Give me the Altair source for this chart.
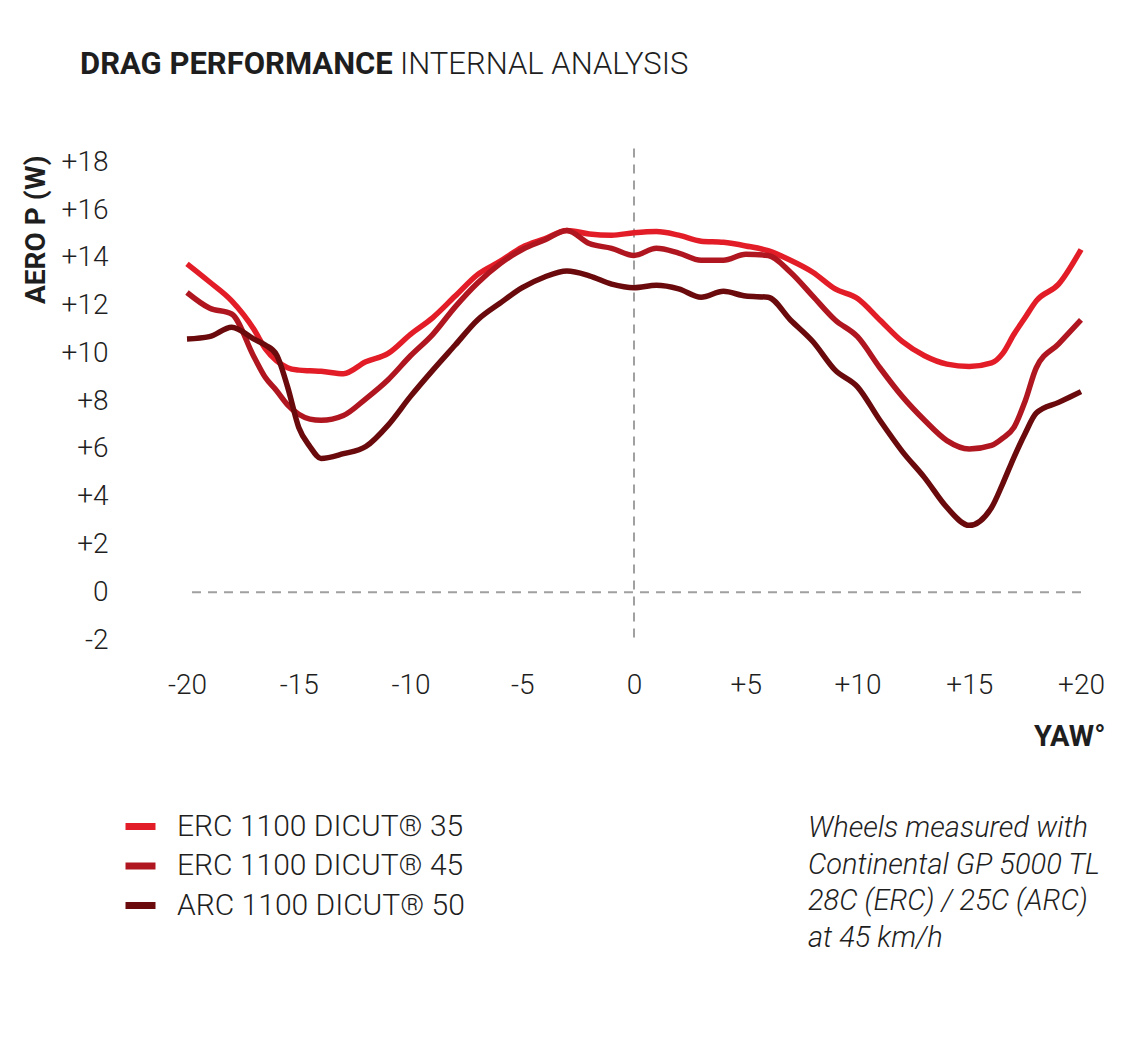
import altair as alt
import pandas as pd

yaw = [-20, -19, -18, -17, -16.5, -16, -15.5, -15, -14.5, -14, -13, -12, -11, -10, -9, -8, -7, -6, -5, -4,
       -3, -2, -1, 0, 1, 2, 3, 4, 5, 6, 7, 8, 9, 10, 11, 12, 13, 14, 15, 16, 16.5, 17, 17.5, 18, 19, 20]

erc35 = [13.75, 13.0, 12.2, 11.0, 10.2, 9.7, 9.4, 9.3, 9.27, 9.25, 9.15, 9.65, 10.0, 10.8, 11.5, 12.4, 13.3,
         13.85, 14.45, 14.8, 15.15, 15.0, 14.95, 15.05, 15.1, 14.95, 14.7, 14.65, 14.5, 14.3, 13.9, 13.4,
         12.7, 12.3, 11.4, 10.5, 9.9, 9.55, 9.45, 9.6, 10.0, 10.8, 11.5, 12.2, 12.9, 14.35]

erc45 = [12.55, 11.9, 11.65, 9.85, 9.0, 8.45, 7.85, 7.45, 7.25, 7.2, 7.4, 8.1, 8.9, 9.9, 10.8, 11.95, 12.95,
         13.75, 14.35, 14.75, 15.15, 14.6, 14.4, 14.1, 14.4, 14.2, 13.9, 13.9, 14.15, 14.1, 13.4, 12.4,
         11.4, 10.7, 9.4, 8.2, 7.2, 6.35, 6.0, 6.15, 6.45, 6.9, 8.0, 9.4, 10.4, 11.4]

arc50 = [10.6, 10.7, 11.1, 10.6, 10.35, 9.95, 8.6, 6.9, 6.1, 5.6, 5.8, 6.1, 7.0, 8.2, 9.3, 10.35, 11.4,
         12.1, 12.75, 13.2, 13.45, 13.25, 12.9, 12.75, 12.85, 12.7, 12.35, 12.6, 12.4, 12.35, 11.4, 10.5,
         9.3, 8.6, 7.2, 5.9, 4.8, 3.55, 2.8, 3.55, 4.55, 5.65, 6.65, 7.5, 7.95, 8.4]

series_names = ["ERC 1100 DICUT® 35", "ERC 1100 DICUT® 45", "ARC 1100 DICUT® 50"]
series_colors = ["#e31d27", "#b0161f", "#6a0a0c"]

y_ticks = [-2, 0, 2, 4, 6, 8, 10, 12, 14, 16, 18]
x_ticks = [-20, -15, -10, -5, 0, 5, 10, 15, 20]

title_bold = "DRAG PERFORMANCE"
title_light = "INTERNAL ANALYSIS"
note_lines = ["Wheels measured with", "Continental GP 5000 TL", "28C (ERC) / 25C (ARC)", "at 45 km/h"]

rows = []
for name, vals in zip(series_names, [erc35, erc45, arc50]):
    for x, v in zip(yaw, vals):
        rows.append({"yaw": x, "power": v, "wheel": name})
df = pd.DataFrame(rows)

FONT = "Roboto"
TXT = "#1e1e1e"
label_expr = "datum.value > 0 ? '+' + datum.value : '' + datum.value"

xscale = alt.Scale(domain=[-20, 20], nice=False, zero=False)
yscale = alt.Scale(domain=[-2, 18.6], nice=False, zero=False)

xaxis = alt.Axis(values=x_ticks, labelExpr=label_expr, grid=False, domain=False, ticks=False, tickSize=0,
                 labelFont=FONT, labelFontSize=28, labelFontWeight=300, labelColor=TXT, labelPadding=31,
                 labelBaseline="top", labelFlush=False, labelOverlap=False,
                 title="YAW°", titleFont=FONT, titleFontSize=29, titleFontWeight="bold", titleColor=TXT,
                 titleX=918, titleY=105, titleAlign="right", titleBaseline="alphabetic")
yaxis = alt.Axis(values=y_ticks, labelExpr=label_expr, grid=False, domain=False, ticks=False, tickSize=0,
                 labelFont=FONT, labelFontSize=28, labelFontWeight=300, labelColor=TXT, labelPadding=79,
                 labelAlign="right", labelBaseline="middle", labelFlush=False, labelOverlap=False,
                 title="AERO P (W)", titleFont=FONT, titleFontSize=28, titleFontWeight="bold", titleColor=TXT,
                 titleAngle=270, titleX=-151, titleY=7, titleAlign="right", titleBaseline="middle")

hrule = alt.Chart(pd.DataFrame({"v": [0]})).mark_rule(
    color="#a0a0a0", strokeWidth=2, strokeDash=[9, 7]
).encode(y=alt.Y("v:Q", scale=yscale, axis=yaxis))

vrule = alt.Chart(pd.DataFrame({"v": [0], "lo": [-1.9], "hi": [18.6]})).mark_rule(
    color="#a0a0a0", strokeWidth=2, strokeDash=[9, 7]
).encode(x=alt.X("v:Q", scale=xscale, axis=xaxis), y=alt.Y("lo:Q", scale=yscale), y2="hi:Q")

lines = alt.Chart(df).mark_line(strokeWidth=5.5, interpolate="monotone", strokeCap="butt").encode(
    x=alt.X("yaw:Q", scale=xscale, axis=xaxis),
    y=alt.Y("power:Q", scale=yscale, axis=yaxis),
    color=alt.Color("wheel:N", scale=alt.Scale(domain=series_names, range=series_colors),
                    sort=series_names,
                    legend=alt.Legend(title=None, orient="none", legendX=-65, legendY=660,
                                      symbolType="stroke", symbolSize=900, symbolStrokeWidth=7,
                                      labelFont=FONT, labelFontSize=30, labelFontWeight=300,
                                      labelColor=TXT, labelOffset=18, rowPadding=5.5, padding=0,
                                      labelLimit=400)),
)

t1 = alt.Chart(pd.DataFrame({"t": [title_bold]})).mark_text(
    font=FONT, fontSize=31, fontWeight="bold", color=TXT, align="left", baseline="alphabetic"
).encode(text="t:N", x=alt.value(-107), y=alt.value(-74))

t2 = alt.Chart(pd.DataFrame({"t": [title_light]})).mark_text(
    font=FONT, fontSize=31, fontWeight=300, color=TXT, align="left", baseline="alphabetic"
).encode(text="t:N", x=alt.value(213), y=alt.value(-74))

note = alt.Chart(pd.DataFrame({"t": [0]})).mark_text(
    text=note_lines, font=FONT, fontSize=29, fontWeight=300, fontStyle="italic", color=TXT,
    align="left", baseline="alphabetic", lineHeight=36.5
).encode(x=alt.value(621), y=alt.value(689))

chart = alt.layer(hrule, vrule, lines, t1, t2, note).properties(
    width=894, height=492,
    autosize=alt.AutoSizeParams(type="none"),
    padding={"left": 179, "top": 140, "right": 30, "bottom": 330},
    background="white",
).configure_view(stroke=None)

chart.save("out.html", embed_options={"renderer": "svg", "actions": False})
